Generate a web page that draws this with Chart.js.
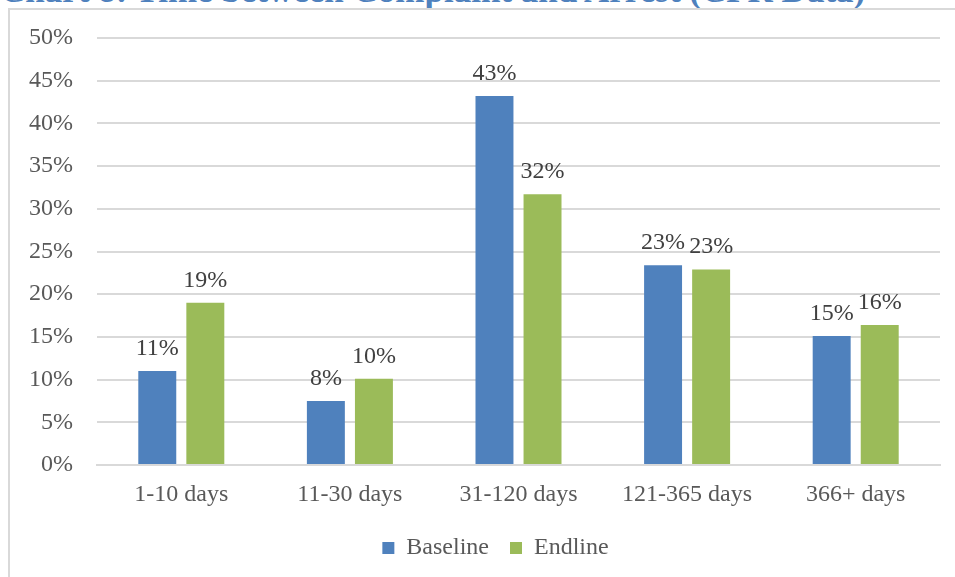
<!DOCTYPE html>
<html>
<head>
<meta charset="utf-8">
<script src="https://cdn.jsdelivr.net/npm/chart.js@4/dist/chart.umd.min.js"></script>
<style>
  html, body { margin: 0; padding: 0; background: #fff; overflow: hidden; }
  body { width: 955px; height: 577px; position: relative; }
  .chart-title {
    position: absolute; left: 0; top: -27px;
    font: bold 35px "Liberation Serif", serif; line-height: 35px;
    color: #4f81bd; white-space: nowrap;
  }
  .chart-frame {
    position: absolute; left: 8px; top: 8px; width: 960px; height: 580px;
    border-left: 2px solid #d9d9d9; border-top: 2px solid #d9d9d9;
  }
  .chart-box { position: absolute; left: 9px; top: 9px; width: 946px; height: 568px; }
</style>
</head>
<body>
<div class="chart-title">Chart 8: Time between Complaint and Arrest (CPR Data)</div>
<div class="chart-frame"></div>
<div class="chart-box"><canvas id="arrestChart"></canvas></div>
<script>
const categories = ['1-10 days', '11-30 days', '31-120 days', '121-365 days', '366+ days'];
const baseline = [11.0, 7.5, 43.2, 23.4, 15.1];
const endline = [19.0, 10.1, 31.7, 22.9, 16.4];
const yTicks = [0, 5, 10, 15, 20, 25, 30, 35, 40, 45, 50];

const FONT = 'Liberation Serif';

// étiquettes de valeur au-dessus de chaque barre
const barLabels = {
  id: 'barLabels',
  afterDatasetsDraw(chart) {
    const ctx = chart.ctx;
    ctx.save();
    ctx.font = '24px "' + FONT + '"';
    ctx.fillStyle = '#404040';
    ctx.textAlign = 'center';
    ctx.textBaseline = 'alphabetic';
    chart.data.datasets.forEach((ds, i) => {
      chart.getDatasetMeta(i).data.forEach((bar, j) => {
        ctx.fillText(Math.round(ds.data[j]) + '%', bar.x, bar.y - 16);
      });
    });
    ctx.restore();
  }
};

// décaler la légende un peu vers la droite
const legendShift = {
  id: 'legendShift',
  afterLayout(chart) {
    if (chart.legend) {
      chart.legend.left += 21;
      chart.legend.right += 21;
    }
  }
};

new Chart(document.getElementById('arrestChart'), {
  type: 'bar',
  data: {
    labels: categories,
    datasets: [
      { label: 'Baseline', data: baseline, backgroundColor: '#4f81bd' },
      { label: 'Endline', data: endline, backgroundColor: '#9bbb59' }
    ]
  },
  options: {
    responsive: true,
    maintainAspectRatio: false,
    animation: false,
    categoryPercentage: 0.57,
    barPercentage: 0.79,
    layout: { padding: { top: 29, right: 15, bottom: 7, left: 0 } },
    plugins: {
      legend: {
        position: 'bottom',
        labels: {
          boxWidth: 12, boxHeight: 12, padding: 21,
          color: '#595959',
          font: { family: FONT, size: 24 }
        }
      },
      tooltip: { enabled: false }
    },
    scales: {
      x: {
        afterFit(scale) { scale.height = 50; },
        grid: { display: false, drawTicks: false },
        border: { color: '#d9d9d9', width: 2 },
        ticks: { color: '#595959', padding: 15, font: { family: FONT, size: 24 } }
      },
      y: {
        min: 0, max: 50,
        afterFit(scale) {
          scale.width = 88;
          scale.paddingTop = 0;
        },
        afterBuildTicks(scale) { scale.ticks = yTicks.map(v => ({ value: v })); },
        grid: { color: '#d9d9d9', lineWidth: 2, drawTicks: false },
        border: { display: false },
        ticks: {
          color: '#595959', padding: 24,
          font: { family: FONT, size: 24 },
          callback: v => v + '%'
        }
      }
    }
  },
  plugins: [barLabels, legendShift]
});
</script>
</body>
</html>
